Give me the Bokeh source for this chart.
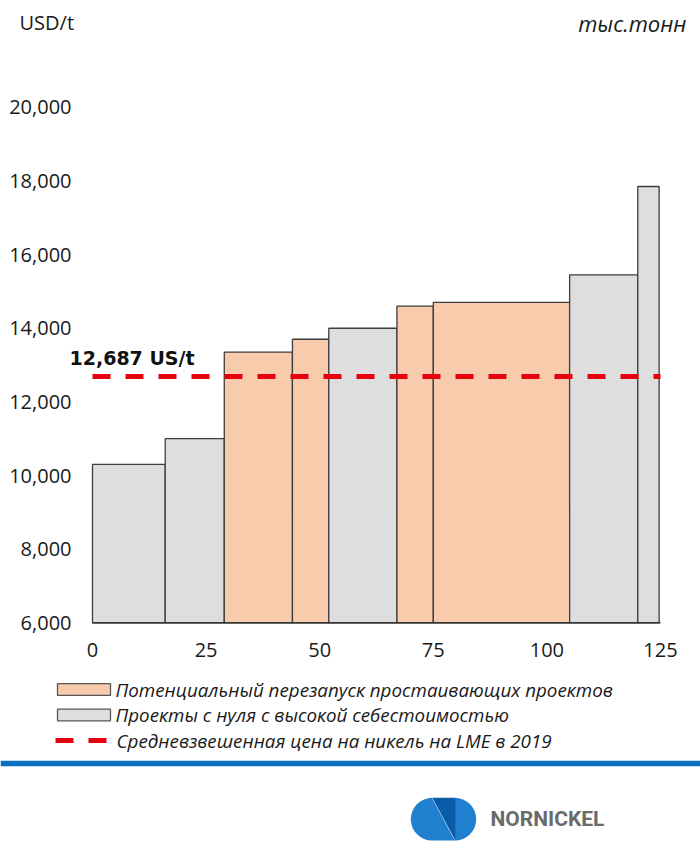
from bokeh.plotting import figure
from bokeh.layouts import column
from bokeh.models import Range1d, FixedTicker, Label, ColumnDataSource
from bokeh.core.properties import value
from bokeh.embed import file_html
from bokeh.resources import INLINE

# ---------------- data ----------------
capacity_kt = [16, 13, 15, 8, 15, 8, 30, 15, 4.7]          # bar widths, thousand tonnes
cost_usd_t = [10300, 11000, 13350, 13700, 14000, 14600, 14700, 15450, 17850]
project_type = ["new", "new", "restart", "restart", "new", "restart", "restart", "new", "new"]
lme_price_2019 = 12687
x_ticks = [0, 25, 50, 75, 100, 125]
y_ticks = [6000, 8000, 10000, 12000, 14000, 16000, 18000, 20000]
legend_labels = [
    "Потенциальный перезапуск простаивающих проектов",
    "Проекты с нуля с высокой себестоимостью",
    "Средневзвешенная цена на никель на LME в 2019",
]
y_unit = "USD/t"
x_unit = "тыс.тонн"
brand = "NORNICKEL"

# ---------------- style ----------------
COLORS = {"restart": "#F7CBAC", "new": "#DEDEDE"}
EDGE = "#3d3d3d"
RED = "#E8000E"
BLUE = "#0B6FC4"
TXT = "#1a1a1a"
FONT = "Open Sans"
W = 700
PLOT_LEFT_PX = 92          # where x = 0 sits on the page
PLOT_W_PX = 568            # pixels spanned by the x tick range
S = PLOT_W_PX / (x_ticks[-1] - x_ticks[0])


def bare(fig):
    fig.grid.visible = False
    fig.outline_line_color = None
    return fig


# ---------------- header ----------------
head = bare(figure(width=W, height=60, x_range=Range1d(0, W), y_range=Range1d(60, 0),
                   toolbar_location=None, output_backend="svg", min_border=0, title=None,
                   x_axis_location=None, y_axis_location=None))
head.text(x=[19], y=[22], text=[y_unit], text_font=value(FONT), text_font_size="20px",
          text_baseline="middle", text_align="left", text_color=TXT)
head.text(x=[686], y=[22], text=[x_unit], text_font=value(FONT), text_font_size="22px",
          text_font_style="italic", text_baseline="middle", text_align="right", text_color=TXT)

# ---------------- chart ----------------
right = []
acc = 0
for w in capacity_kt:
    acc += w
    right.append(acc)
left = [r - w for r, w in zip(right, capacity_kt)]
src = ColumnDataSource(dict(
    left=left, right=right, top=cost_usd_t, bottom=[y_ticks[0]] * len(cost_usd_t),
    color=[COLORS[t] for t in project_type],
))

chart = bare(figure(width=W, height=612,
                    x_range=Range1d(x_ticks[0] - PLOT_LEFT_PX / S,
                                    x_ticks[0] + (W - PLOT_LEFT_PX) / S),
                    y_range=Range1d(y_ticks[0] - 400, 21000), toolbar_location=None,
                    output_backend="svg", title=None, y_axis_location=None,
                    min_border_left=0, min_border_right=0, min_border_top=10,
                    min_border_bottom=35))
chart.quad(left="left", right="right", top="top", bottom="bottom", fill_color="color",
           line_color=EDGE, line_width=1.3, source=src)

# category axis line at the base value
chart.line(x=[x_ticks[0], x_ticks[-1]], y=[y_ticks[0], y_ticks[0]],
           line_color="#333333", line_width=1.6)

# average LME price line
chart.line(x=[x_ticks[0], x_ticks[-1]], y=[lme_price_2019, lme_price_2019],
           line_color=RED, line_width=5, line_dash="18 15")
chart.add_layout(Label(x=x_ticks[0] - 23 / S, y=lme_price_2019 + 500,
                       text=f"{lme_price_2019:,} US/t",
                       text_font="DejaVu Sans", text_font_style="bold", text_font_size="19px",
                       text_baseline="middle", text_align="left", text_color="#111111"))

# y tick labels (value axis)
chart.text(x=[x_ticks[0] - 21 / S] * len(y_ticks), y=y_ticks,
           text=[f"{v:,}" for v in y_ticks], text_font=value(FONT), text_font_size="20px",
           text_align="right", text_baseline="middle", text_color=TXT)

xa = chart.xaxis[0]
xa.ticker = FixedTicker(ticks=x_ticks)
xa.bounds = (x_ticks[0], x_ticks[-1])
xa.axis_line_color = None
xa.major_tick_line_color = None
xa.minor_tick_line_color = None
xa.major_tick_out = 0
xa.major_tick_in = 0
xa.minor_tick_out = 0
xa.minor_tick_in = 0
xa.major_label_text_font = FONT
xa.major_label_text_font_size = "20px"
xa.major_label_text_color = TXT
xa.major_label_standoff = 5

# ---------------- footer (legend, rule, logo) ----------------
foot = bare(figure(width=W, height=178, x_range=Range1d(0, W), y_range=Range1d(850, 672),
                   toolbar_location=None, output_backend="svg", min_border=0, title=None,
                   x_axis_location=None, y_axis_location=None))

row_y = [689, 714.5, 740]
foot.quad(left=[57, 57], right=[110, 110],
          top=[row_y[0] - 5.8, row_y[1] - 5.8], bottom=[row_y[0] + 5.8, row_y[1] + 5.8],
          fill_color=[COLORS["restart"], COLORS["new"]], line_color="#555555", line_width=1.3)
foot.line(x=[55, 107], y=[row_y[2], row_y[2]], line_color=RED, line_width=5, line_dash="18 15")
foot.text(x=[115, 115, 116], y=row_y, text=legend_labels, text_font=value(FONT),
          text_font_size="18.8px", text_font_style="italic", text_baseline="middle",
          text_color=TXT)

foot.line(x=[0, W], y=[763, 763], line_color=BLUE, line_width=5.5)

# logo
LIGHT = "#1E80CF"
DARK = "#0B5CA8"
foot.wedge(x=[431.7], y=[818.7], radius=21.4, start_angle=90, end_angle=270,
           start_angle_units="deg", end_angle_units="deg", fill_color=LIGHT, line_color=None)
foot.wedge(x=[454.3], y=[818.7], radius=21.4, start_angle=-90, end_angle=90,
           start_angle_units="deg", end_angle_units="deg", fill_color=LIGHT, line_color=None)
foot.patch(x=[431.2, 454.3, 431.2], y=[797.3, 840.1, 840.1], fill_color=LIGHT, line_color=None)
foot.patch(x=[431.7, 454.8, 454.8], y=[797.3, 797.3, 840.1], fill_color=DARK, line_color=None)
foot.text(x=[490], y=[818], text=[brand], text_font=value("Roboto"), text_font_style="bold",
          text_font_size="21px", text_baseline="middle", text_color="#6a6a6a")

layout = column(head, chart, foot)
open("out.html", "w").write(file_html(layout, INLINE))
